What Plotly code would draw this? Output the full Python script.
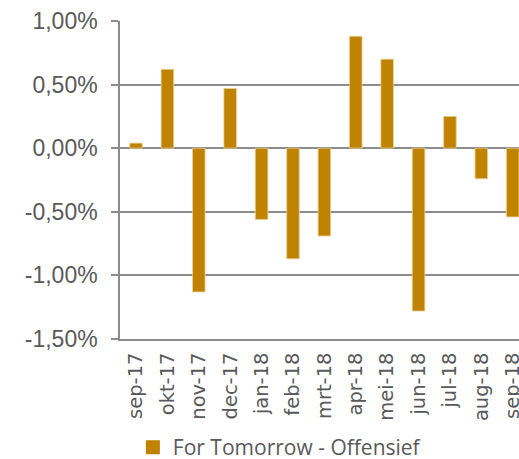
import plotly.graph_objects as go

months = ["sep-17", "okt-17", "nov-17", "dec-17", "jan-18", "feb-18", "mrt-18",
          "apr-18", "mei-18", "jun-18", "jul-18", "aug-18", "sep-18"]
returns_pct = [0.04, 0.62, -1.13, 0.47, -0.56, -0.87, -0.69,
               0.88, 0.70, -1.28, 0.25, -0.24, -0.54]
series_name = "For Tomorrow - Offensief"
y_ticks = [-1.5, -1.0, -0.5, 0.0, 0.5, 1.0]
y_tick_labels = [("%.2f%%" % v).replace(".", ",") for v in y_ticks]

bar_color = "#BF8300"

fig = go.Figure()
fig.add_trace(go.Bar(
    x=months, y=returns_pct, name=series_name, showlegend=False,
    marker=dict(color=bar_color, line=dict(color="#EBCF95", width=0.8)),
    width=0.4,
))
# legend entry (square swatch)
fig.add_trace(go.Scatter(
    x=[None], y=[None], mode="markers", name=series_name,
    marker=dict(symbol="square", size=14, color=bar_color),
))

grid = "#8C8C8C"
fig.update_layout(
    width=519, height=459,
    margin=dict(l=120, r=0, t=21, b=120, pad=0, autoexpand=False),
    paper_bgcolor="white", plot_bgcolor="white",
    showlegend=True,
    legend=dict(orientation="h", xref="container", yref="container",
                x=0.256, y=0.025, xanchor="left", yanchor="middle",
                font=dict(family="Open Sans", size=21, color="#595959")),
    xaxis=dict(type="category", range=[-0.51, 12.2], tickangle=-90,
               showline=True, linecolor=grid, linewidth=1.5,
               ticks="", showgrid=False, ticklabelstandoff=4,
               tickfont=dict(family="DejaVu Sans", size=19.5, color="#595959")),
    yaxis=dict(range=[-1.5, 1.0], tickvals=y_ticks, ticktext=y_tick_labels,
               showgrid=True, gridcolor=grid, gridwidth=1.5,
               zeroline=True, zerolinecolor=grid, zerolinewidth=1.5,
               showline=True, linecolor=grid, linewidth=1.5,
               ticks="outside", ticklen=7, tickcolor=grid, tickwidth=1.5,
               ticklabelstandoff=9,
               tickfont=dict(family="Liberation Sans", size=23, color="#595959")),
)

fig.write_html(
    "out.html",
    config={"displayModeBar": False},
    post_script="document.body.style.margin='0';document.body.style.overflow='hidden';",
)
